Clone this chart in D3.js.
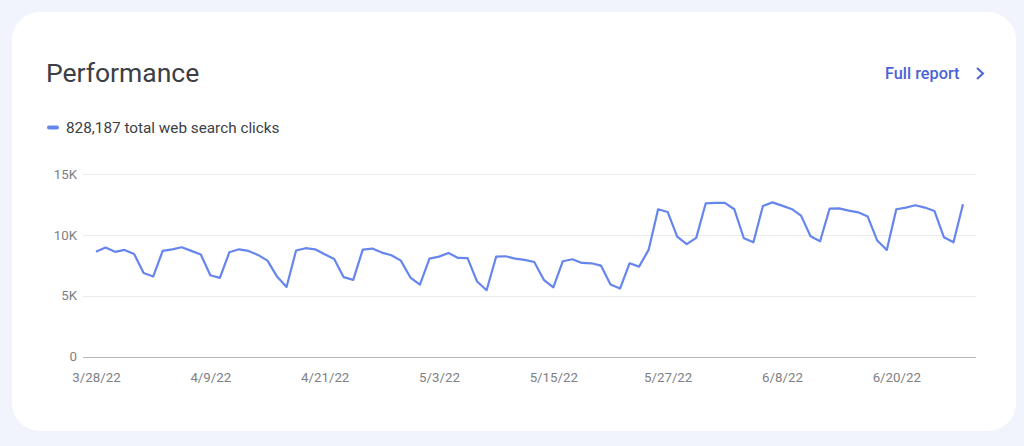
<!DOCTYPE html>
<html lang="en">
<head>
<meta charset="UTF-8">
<title>Performance</title>
<script src="https://d3js.org/d3.v7.min.js"></script>
<style>
  body{
    margin: 0;
    background: #f1f4fc;
    font-family: Roboto, "Open Sans", sans-serif;
  }
  #card{
    position: absolute;
    left: 12px;
    top: 12px;
    width: 1004px;
    height: 419px;
    background: #fff;
    border-radius: 28px;
  }
  svg{
    position: absolute;
    left: 0;
    top: 0;
  }
</style>
</head>
<body>
<div id="card"></div>
<svg id="canvas" width="1024" height="446"></svg>
<script>

// daily clicks (thousands)
const startDate = "2022-03-28"
const clicks = [
  8.60, 8.95, 8.60, 8.76, 8.43, 6.87, 6.57,
  8.68, 8.81, 8.98, 8.68, 8.38, 6.68, 6.46,
  8.57, 8.81, 8.68, 8.35, 7.88, 6.57, 5.72,
  8.71, 8.90, 8.81, 8.40, 8.02, 6.52, 6.30,
  8.79, 8.87, 8.54, 8.32, 7.88, 6.49, 5.91,
  8.05, 8.21, 8.51, 8.10, 8.08, 6.16, 5.45,
  8.21, 8.24, 8.05, 7.94, 7.77, 6.30, 5.69,
  7.83, 7.99, 7.69, 7.66, 7.47, 5.91, 5.58,
  7.66, 7.39, 8.76, 12.10, 11.88, 9.86, 9.23,
  9.75, 12.59, 12.62, 12.62, 12.10, 9.72, 9.39,
  12.37, 12.67, 12.40, 12.13, 11.58, 9.88, 9.47,
  12.15, 12.18, 11.99, 11.85, 11.50, 9.53, 8.76,
  12.10, 12.24, 12.43, 12.24, 11.96, 9.80, 9.39,
  12.51
]
const yTicks = [0, 5000, 10000, 15000]
const xTicks = ["2022-03-28", "2022-04-09", "2022-04-21", "2022-05-03",
                "2022-05-15", "2022-05-27", "2022-06-08", "2022-06-20"]
const totalLabel = "828,187 total web search clicks"

const lineColour = "#6686ee"
const parse = d3.utcParse("%Y-%m-%d")

let data = clicks.map((v, i) => {
  return {date: d3.utcDay.offset(parse(startDate), i), value: v * 1000}
})

const canvas = d3.select("#canvas")

// plot box
const plotLeft = 83, plotRight = 976, plotTop = 174, plotBottom = 356.5

let xScale = d3.scaleUtc()
  .domain(d3.extent(data, d => d.date))
  .range([plotLeft + 13, plotRight - 13])

let yScale = d3.scaleLinear()
  .domain([0, 15000])
  .range([plotBottom, plotTop])

// title and link
canvas.append("text")
  .attr("x", 46)
  .attr("y", 82)
  .attr("font-size", 26.5)
  .attr("fill", "#3c4043")
  .text("Performance")

canvas.append("text")
  .attr("x", 885)
  .attr("y", 79)
  .attr("font-size", 16.3)
  .attr("fill", "#4a63d8")
  .attr("font-weight", 500)
  .text("Full report")

canvas.append("path")
  .attr("d", "M977,68 L983,73.5 L977,79")
  .attr("fill", "none")
  .attr("stroke", "#4a63d8")
  .attr("stroke-width", 2)

// legend
canvas.append("line")
  .attr("x1", 49).attr("x2", 57)
  .attr("y1", 127.5).attr("y2", 127.5)
  .attr("stroke", lineColour)
  .attr("stroke-width", 4)
  .attr("stroke-linecap", "round")

canvas.append("text")
  .attr("x", 66)
  .attr("y", 133)
  .attr("font-size", 15.3)
  .attr("fill", "#3c4043")
  .text(totalLabel)

// grid lines
canvas.append("g")
  .selectAll("line")
  .data(yTicks)
  .enter()
  .append("line")
  .attr("x1", plotLeft)
  .attr("x2", plotRight)
  .attr("y1", d => Math.round(yScale(d)) + 0.5)
  .attr("y2", d => Math.round(yScale(d)) + 0.5)
  .attr("stroke", d => d === 0 ? "#b4b7bb" : "#ebebeb")
  .attr("stroke-width", 1)

// y axis labels
let yAxis = d3.axisLeft(yScale)
  .tickValues(yTicks)
  .tickSize(0)
  .tickPadding(0)
  .tickFormat(d => d === 0 ? "0" : d3.format("d")(d / 1000) + "K")

canvas.append("g")
  .attr("transform", "translate(77,0)")
  .call(yAxis)
  .call(g => g.select(".domain").remove())
  .selectAll("text")
  .attr("font-size", 13.3)
  .attr("font-family", "Roboto, sans-serif")
  .attr("fill", "#7d8084")

// x axis labels
let xAxis = d3.axisBottom(xScale)
  .tickValues(xTicks.map(parse))
  .tickSize(0)
  .tickPadding(0)
  .tickFormat(d3.utcFormat("%-m/%-d/%y"))

canvas.append("g")
  .attr("transform", "translate(0,373)")
  .call(xAxis)
  .call(g => g.select(".domain").remove())
  .selectAll("text")
  .attr("font-size", 13.3)
  .attr("font-family", "Roboto, sans-serif")
  .attr("fill", "#7d8084")

// the clicks line
let line = d3.line()
  .x(d => xScale(d.date))
  .y(d => yScale(d.value))

canvas.append("path")
  .datum(data)
  .attr("d", line)
  .attr("fill", "none")
  .attr("stroke", lineColour)
  .attr("stroke-width", 2.2)
  .attr("stroke-linejoin", "round")

</script>
</body>
</html>
